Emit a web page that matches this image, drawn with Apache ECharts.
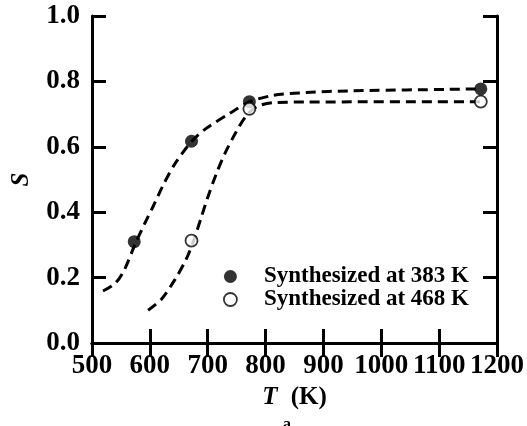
<!DOCTYPE html>
<html lang="en">
<head>
    <meta charset="UTF-8">
    <title>S vs Ta</title>
    <script src="https://cdn.jsdelivr.net/npm/echarts@6/dist/echarts.min.js"></script>
    <style>
        body { margin: 0; padding: 0; background: #fff; }
        #main { width: 527px; height: 426px; }
    </style>
</head>
<body>
    <div id="main"></div>
    <script type="text/javascript">
        // measured points
        var temps383 = [573, 672, 772, 1172];
        var s383 = [0.31, 0.617, 0.738, 0.777];
        var temps468 = [672, 772, 1172];
        var s468 = [0.313, 0.716, 0.738];

        // dashed fit curves
        var fit383T = [519, 540, 556, 574, 591, 606, 623, 643, 672, 698, 738, 772, 813, 870, 945, 1172];
        var fit383S = [0.159, 0.182, 0.224, 0.300, 0.365, 0.419, 0.483, 0.547, 0.616, 0.657, 0.702, 0.737, 0.757, 0.766, 0.771, 0.777];
        var fit468T = [597, 620, 643, 663, 675, 689, 700, 715, 729, 749, 766, 784, 813, 870, 1172];
        var fit468S = [0.100, 0.134, 0.193, 0.257, 0.310, 0.385, 0.445, 0.518, 0.577, 0.645, 0.693, 0.722, 0.735, 0.737, 0.738];

        var xTicks = [500, 600, 700, 800, 900, 1000, 1100, 1200];
        var yTicks = [0.0, 0.2, 0.4, 0.6, 0.8, 1.0];
        var legendNames = ['Synthesized at 383 K', 'Synthesized at 468 K'];

        function pairs(xs, ys) {
            var out = [];
            for (var i = 0; i < xs.length; i++) out.push([xs[i], ys[i]]);
            return out;
        }

        var FONT = 'Liberation Serif';
        var axisLine = { show: true, lineStyle: { color: '#000', width: 3 } };
        var axisTick = { show: true, inside: true, length: 14, lineStyle: { color: '#000', width: 3 } };

        var myChart = echarts.init(document.getElementById('main'));

        var option = {
            backgroundColor: '#fff',
            animation: false,
            grid: { left: 92, right: 29, top: 16, bottom: 83 },
            legend: {
                orient: 'vertical',
                left: 218,
                top: 260,
                itemWidth: 13,
                itemHeight: 13,
                itemGap: 0,
                selectedMode: false,
                data: [
                    { name: legendNames[0], icon: 'circle', itemStyle: { color: '#000', borderWidth: 0 } },
                    { name: legendNames[1], icon: 'circle', itemStyle: { color: '#fff', borderColor: '#000', borderWidth: 1.8 } }
                ],
                textStyle: {
                    fontFamily: FONT, fontWeight: 'bold', fontSize: 23, color: '#000',
                    lineHeight: 22, padding: [0, 0, 0, 22]
                }
            },
            xAxis: [{
                type: 'value',
                min: xTicks[0],
                max: xTicks[xTicks.length - 1],
                interval: 100,
                position: 'bottom',
                axisLine: axisLine,
                axisTick: axisTick,
                splitLine: { show: false },
                axisLabel: {
                    fontFamily: FONT, fontWeight: 'bold', fontSize: 27, color: '#000',
                    margin: 10, showMinLabel: true, showMaxLabel: true, hideOverlap: false,
                    formatter: function (v) { return String(v); }
                },
                name: '{t|T}    {k|(K)}',
                nameLocation: 'middle',
                nameGap: 42,
                nameTextStyle: {
                    rich: {
                        t: { fontFamily: FONT, fontWeight: 'bold', fontStyle: 'italic', fontSize: 25, color: '#000' },
                        k: { fontFamily: FONT, fontWeight: 'bold', fontSize: 25, color: '#000' }
                    }
                }
            }, {
                type: 'value',
                min: xTicks[0],
                max: xTicks[xTicks.length - 1],
                interval: 100,
                position: 'top',
                axisLine: axisLine,
                axisTick: axisTick,
                axisLabel: { show: false },
                splitLine: { show: false }
            }],
            yAxis: [{
                type: 'value',
                min: yTicks[0],
                max: yTicks[yTicks.length - 1],
                interval: 0.2,
                position: 'left',
                axisLine: axisLine,
                axisTick: axisTick,
                splitLine: { show: false },
                axisLabel: {
                    fontFamily: FONT, fontWeight: 'bold', fontSize: 27, color: '#000',
                    margin: 12,
                    formatter: function (v) { return v.toFixed(1); }
                },
                name: 'S',
                nameLocation: 'middle',
                nameGap: 58,
                nameTextStyle: { fontFamily: FONT, fontWeight: 'bold', fontStyle: 'italic', fontSize: 25, color: '#000' }
            }, {
                type: 'value',
                min: yTicks[0],
                max: yTicks[yTicks.length - 1],
                interval: 0.2,
                position: 'right',
                axisLine: axisLine,
                axisTick: axisTick,
                axisLabel: { show: false },
                splitLine: { show: false }
            }],
            graphic: [{
                type: 'text',
                left: 283,
                top: 417,
                style: { text: 'a', font: 'bold 16px "Liberation Serif"', fill: '#000' }
            }],
            series: [{
                name: 'fit383',
                type: 'line',
                smooth: 0.3,
                showSymbol: false,
                silent: true,
                lineStyle: { color: '#000', width: 3, type: [10, 6] },
                data: pairs(fit383T, fit383S),
                z: 1
            }, {
                name: 'fit468',
                type: 'line',
                smooth: 0.3,
                showSymbol: false,
                silent: true,
                lineStyle: { color: '#000', width: 3, type: [10, 6] },
                data: pairs(fit468T, fit468S),
                z: 1
            }, {
                name: legendNames[0],
                type: 'scatter',
                symbol: 'circle',
                symbolSize: 13,
                itemStyle: { color: '#000' },
                data: pairs(temps383, s383),
                z: 3
            }, {
                name: legendNames[1],
                type: 'scatter',
                symbol: 'circle',
                symbolSize: 12,
                itemStyle: { color: '#fff', borderColor: '#000', borderWidth: 1.8 },
                data: pairs(temps468, s468),
                z: 3
            }]
        };

        myChart.setOption(option);
    </script>
</body>
</html>
